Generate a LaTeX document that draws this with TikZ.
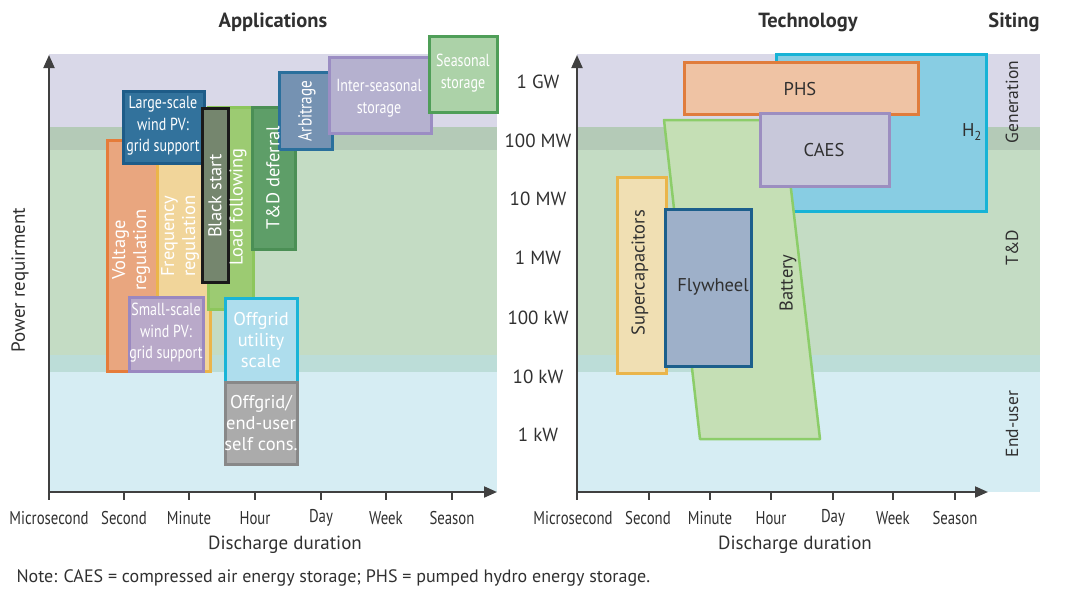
\documentclass[tikz,border=0pt]{standalone}
\usepackage{fontspec}
\setmainfont{PT Sans}
\newfontfamily\narrowfont[FakeStretch=0.8]{PT Sans}
\usetikzlibrary{arrows.meta,positioning}

% background bands (siting levels)
\definecolor{bandgen}{HTML}{D9D8E8}
\definecolor{bandgentd}{HTML}{B4CAB7}
\definecolor{bandtd}{HTML}{C4DCC4}
\definecolor{bandtdeu}{HTML}{BCDDD8}
\definecolor{bandeu}{HTML}{D6EDF3}
\definecolor{axisgray}{HTML}{404040}
\definecolor{txtgray}{HTML}{303030}
% applications
\definecolor{voltfill}{HTML}{E9A67F}\definecolor{voltline}{HTML}{E57C3A}
\definecolor{freqfill}{HTML}{F1D59A}\definecolor{freqline}{HTML}{EBB54A}
\definecolor{largefill}{HTML}{32729C}\definecolor{largeline}{HTML}{1E5C88}
\definecolor{blackfill}{HTML}{75866E}\definecolor{blackline}{HTML}{1A1A1A}
\definecolor{loadfill}{HTML}{9CCB72}\definecolor{loadline}{HTML}{8DC65C}
\definecolor{tddfill}{HTML}{5E9E68}\definecolor{tddline}{HTML}{4B8F55}
\definecolor{arbfill}{HTML}{7592B2}\definecolor{arbline}{HTML}{2A6F9C}
\definecolor{interfill}{HTML}{B5B1CF}\definecolor{interline}{HTML}{9B8DC3}
\definecolor{seasfill}{HTML}{ACD2A8}\definecolor{seasline}{HTML}{4F9E58}
\definecolor{smallfill}{HTML}{B9A9C9}\definecolor{smallline}{HTML}{9A88C0}
\definecolor{offufill}{HTML}{AEDDED}\definecolor{offuline}{HTML}{19B4D7}
\definecolor{offefill}{HTML}{ABABAB}\definecolor{offeline}{HTML}{888888}
% technologies
\definecolor{hfill}{HTML}{88CDE3}\definecolor{hline}{HTML}{17B3D6}
\definecolor{phsfill}{HTML}{EFC3A4}\definecolor{phsline}{HTML}{E07C3C}
\definecolor{caesfill}{HTML}{C8C8DA}\definecolor{caesline}{HTML}{9C8EC0}
\definecolor{batfill}{HTML}{C5DFB5}\definecolor{batline}{HTML}{8CCD69}
\definecolor{supfill}{HTML}{F0DFB3}\definecolor{supline}{HTML}{EAB54A}
\definecolor{flyfill}{HTML}{9EB0C9}\definecolor{flyline}{HTML}{1C5F8C}

\begin{document}
\begin{tikzpicture}[x=1pt, y=-1pt, font=\fontsize{19}{22}\selectfont, text=txtgray,
  range box/.style 2 args={draw=#1, fill=#2, line width=3pt, anchor=north west, inner sep=0pt, outer sep=0pt},
  app label/.style={text=white, align=center, inner sep=0pt, font=\fontsize{18.5}{21}\selectfont},
  narrow label/.style={app label, font=\narrowfont\fontsize{17.5}{21.5}\selectfont},
  tech label/.style={text=txtgray, align=center, inner sep=0pt, font=\fontsize{18.5}{21}\selectfont},
  siting label/.style={rotate=90, font=\fontsize{17.5}{20}\selectfont},
  axis line/.style={draw=axisgray, line width=2pt, -{Triangle[length=13pt,width=11pt]}},
  axis tick/.style={draw=axisgray, line width=2pt},
  tick label/.style={font=\narrowfont\fontsize{18.5}{20}\selectfont},
  panel title/.style={font=\bfseries\fontsize{20.5}{22}\selectfont}]
\useasboundingbox (0,0) rectangle (1066,590);

% ---------- left panel: applications ----------
\fill[bandgen] (49,54) rectangle (497,127);
\fill[bandgentd] (49,127) rectangle (497,150);
\fill[bandtd] (49,150) rectangle (497,355);
\fill[bandtdeu] (49,355) rectangle (497,372);
\fill[bandeu] (49,372) rectangle (497,492);

\node[panel title] (apps) at (273,22) {Applications};

\begin{scope}
\node[range box={voltline}{voltfill}, minimum width=52, minimum height=231] (volt) at (107,140) {};
\node[range box={freqline}{freqfill}, minimum width=53, minimum height=221] (freq) at (157,150) {};
\node[range box={smallline}{smallfill}, minimum width=74, minimum height=74] (small) at (129,297) {};
\node[range box={largeline}{largefill}, minimum width=81, minimum height=72] (large) at (123,91) {};
\node[range box={loadline}{loadfill}, minimum width=45, minimum height=202] (loadf) at (208,107) {};
\node[range box={blackline}{blackfill}, minimum width=26, minimum height=174] (black) at (202,108) {};
\node[range box={tddline}{tddfill}, minimum width=43, minimum height=142] (tdd) at (252,107) {};
\node[range box={arbline}{arbfill}, minimum width=53, minimum height=77] (arb) at (279,72) {};
\node[range box={interline}{interfill}, minimum width=102, minimum height=76] (inter) at (329,57) {};
\node[range box={seasline}{seasfill}, minimum width=68, minimum height=76] (seas) at (429,36) {};
\node[range box={offuline}{offufill}, minimum width=72, minimum height=84] (offu) at (225,298) {};
\node[range box={offeline}{offefill}, minimum width=72, minimum height=82] (offe) at (225,382) {};
\end{scope}

\begin{scope}
\node[app label, rotate=90] (volt-l) at (131,250) {Voltage\\regulation};
\node[app label, rotate=90] (freq-l) at (180,236) {Frequency\\regulation};
\node[narrow label] (small-l) at (166,333) {Small-scale\\wind PV:\\grid support};
\node[narrow label] (large-l) at (163,126) {Large-scale\\wind PV:\\grid support};
\node[app label, rotate=90] (black-l) at (215,196) {Black start};
\node[app label, rotate=90] (loadf-l) at (238,207) {Load following};
\node[app label, rotate=90] (tdd-l) at (273,178) {T\&D deferral};
\node[narrow label, rotate=90, font=\narrowfont\fontsize{19}{21}\selectfont] (arb-l) at (307,111) {Arbitrage};
\node[narrow label] (inter-l) at (379,98) {Inter-seasonal\\storage};
\node[narrow label] (seas-l) at (463,73) {Seasonal\\storage};
\node[app label] (offu-l) at (261,340) {Offgrid\\utility\\scale};
\node[app label] (offe-l) at (261,423) {Offgrid/\\end-user\\self cons.};
\end{scope}

\coordinate (o1) at (49,492);
\coordinate (xend1) at (497,492);
\coordinate (yend1) at (49,55);
\draw[axis line] (o1) -- (xend1);
\draw[axis line] (o1) -- (yend1);
\foreach \xx/\lab [count=\i] in {49/Microsecond,124/Second,189/Minute,255/Hour,321/Day,386/Week,452/Season} {
  \coordinate (ta\i) at (\xx,492);
  \draw[axis tick] (ta\i) -- ++(0,8);
  \node[tick label] (la\i) at (\xx,518) {\lab};
}
\node (dur1) at (285,545) {Discharge duration};
\node[rotate=90] (power) at (20,280) {Power requirment};

% ---------- right panel: technologies ----------
\fill[bandgen] (577,54) rectangle (1040,127);
\fill[bandgentd] (577,127) rectangle (1040,150);
\fill[bandtd] (577,150) rectangle (1040,355);
\fill[bandtdeu] (577,355) rectangle (1040,372);
\fill[bandeu] (577,372) rectangle (1040,492);

\node[panel title] (tech) at (808,22) {Technology};
\node[panel title] (siting) at (1014,22) {Siting};

\node[range box={hline}{hfill}, minimum width=210, minimum height=157] (htwo) at (776,54) {};
\filldraw[draw=batline, fill=batfill, line width=2.5pt, line join=round]
  (664,120) coordinate (bat-nw) -- (783,120) coordinate (bat-ne)
  -- (820,439) coordinate (bat-se) -- (700,439) coordinate (bat-sw) -- cycle;
\node[range box={phsline}{phsfill}, minimum width=234, minimum height=52] (phs) at (684,62) {};
\node[range box={caesline}{caesfill}, minimum width=129, minimum height=73] (caes) at (760,113) {};
\node[range box={supline}{supfill}, minimum width=49, minimum height=196] (supcap) at (617,177) {};
\node[range box={flyline}{flyfill}, minimum width=86, minimum height=157] (fly) at (665,209) {};

\node[tech label] (htwo-l) at (972,132) {H\textsubscript{2}};
\node[tech label] (phs-l) at (800,89) {PHS};
\node[tech label] (caes-l) at (824,150) {CAES};
\node[tech label] (fly-l) at (713,287) {Flywheel};
\node[tech label, rotate=90] (supcap-l) at (640,273) {Supercapacitors};
\node[tech label, rotate=90] (bat-l) at (788,283) {Battery};

\coordinate (o2) at (577,492);
\coordinate (xend2) at (988,492);
\coordinate (yend2) at (577,55);
\draw[axis line] (o2) -- (xend2);
\draw[axis line] (o2) -- (yend2);
\foreach \xx/\lx/\lab [count=\i] in {577/573/Microsecond,649/648/Second,710/710/Minute,771/771/Hour,833/833/Day,893/893/Week,955/955/Season} {
  \coordinate (tb\i) at (\xx,492);
  \draw[axis tick] (tb\i) -- ++(0,8);
  \node[tick label] (lb\i) at (\lx,518) {\lab};
}
\node (dur2) at (795,545) {Discharge duration};
\foreach \yy/\lab [count=\i] in {82/1 GW,141/100 MW,199/10 MW,258/1 MW,318/100 kW,377/10 kW,435/1 kW} {
  \node (pw\i) at (538,\yy) {\lab};
}

\node[siting label] (gen) at (1012,102) {Generation};
\node[siting label] (td) at (1012,248) {T\&D};
\node[siting label] (eu) at (1012,424) {End-user};

\node[anchor=west, font=\fontsize{18}{20}\selectfont] (note) at (13,578)
  {Note: CAES = compressed air energy storage; PHS = pumped hydro energy storage.};
\end{tikzpicture}
\end{document}
